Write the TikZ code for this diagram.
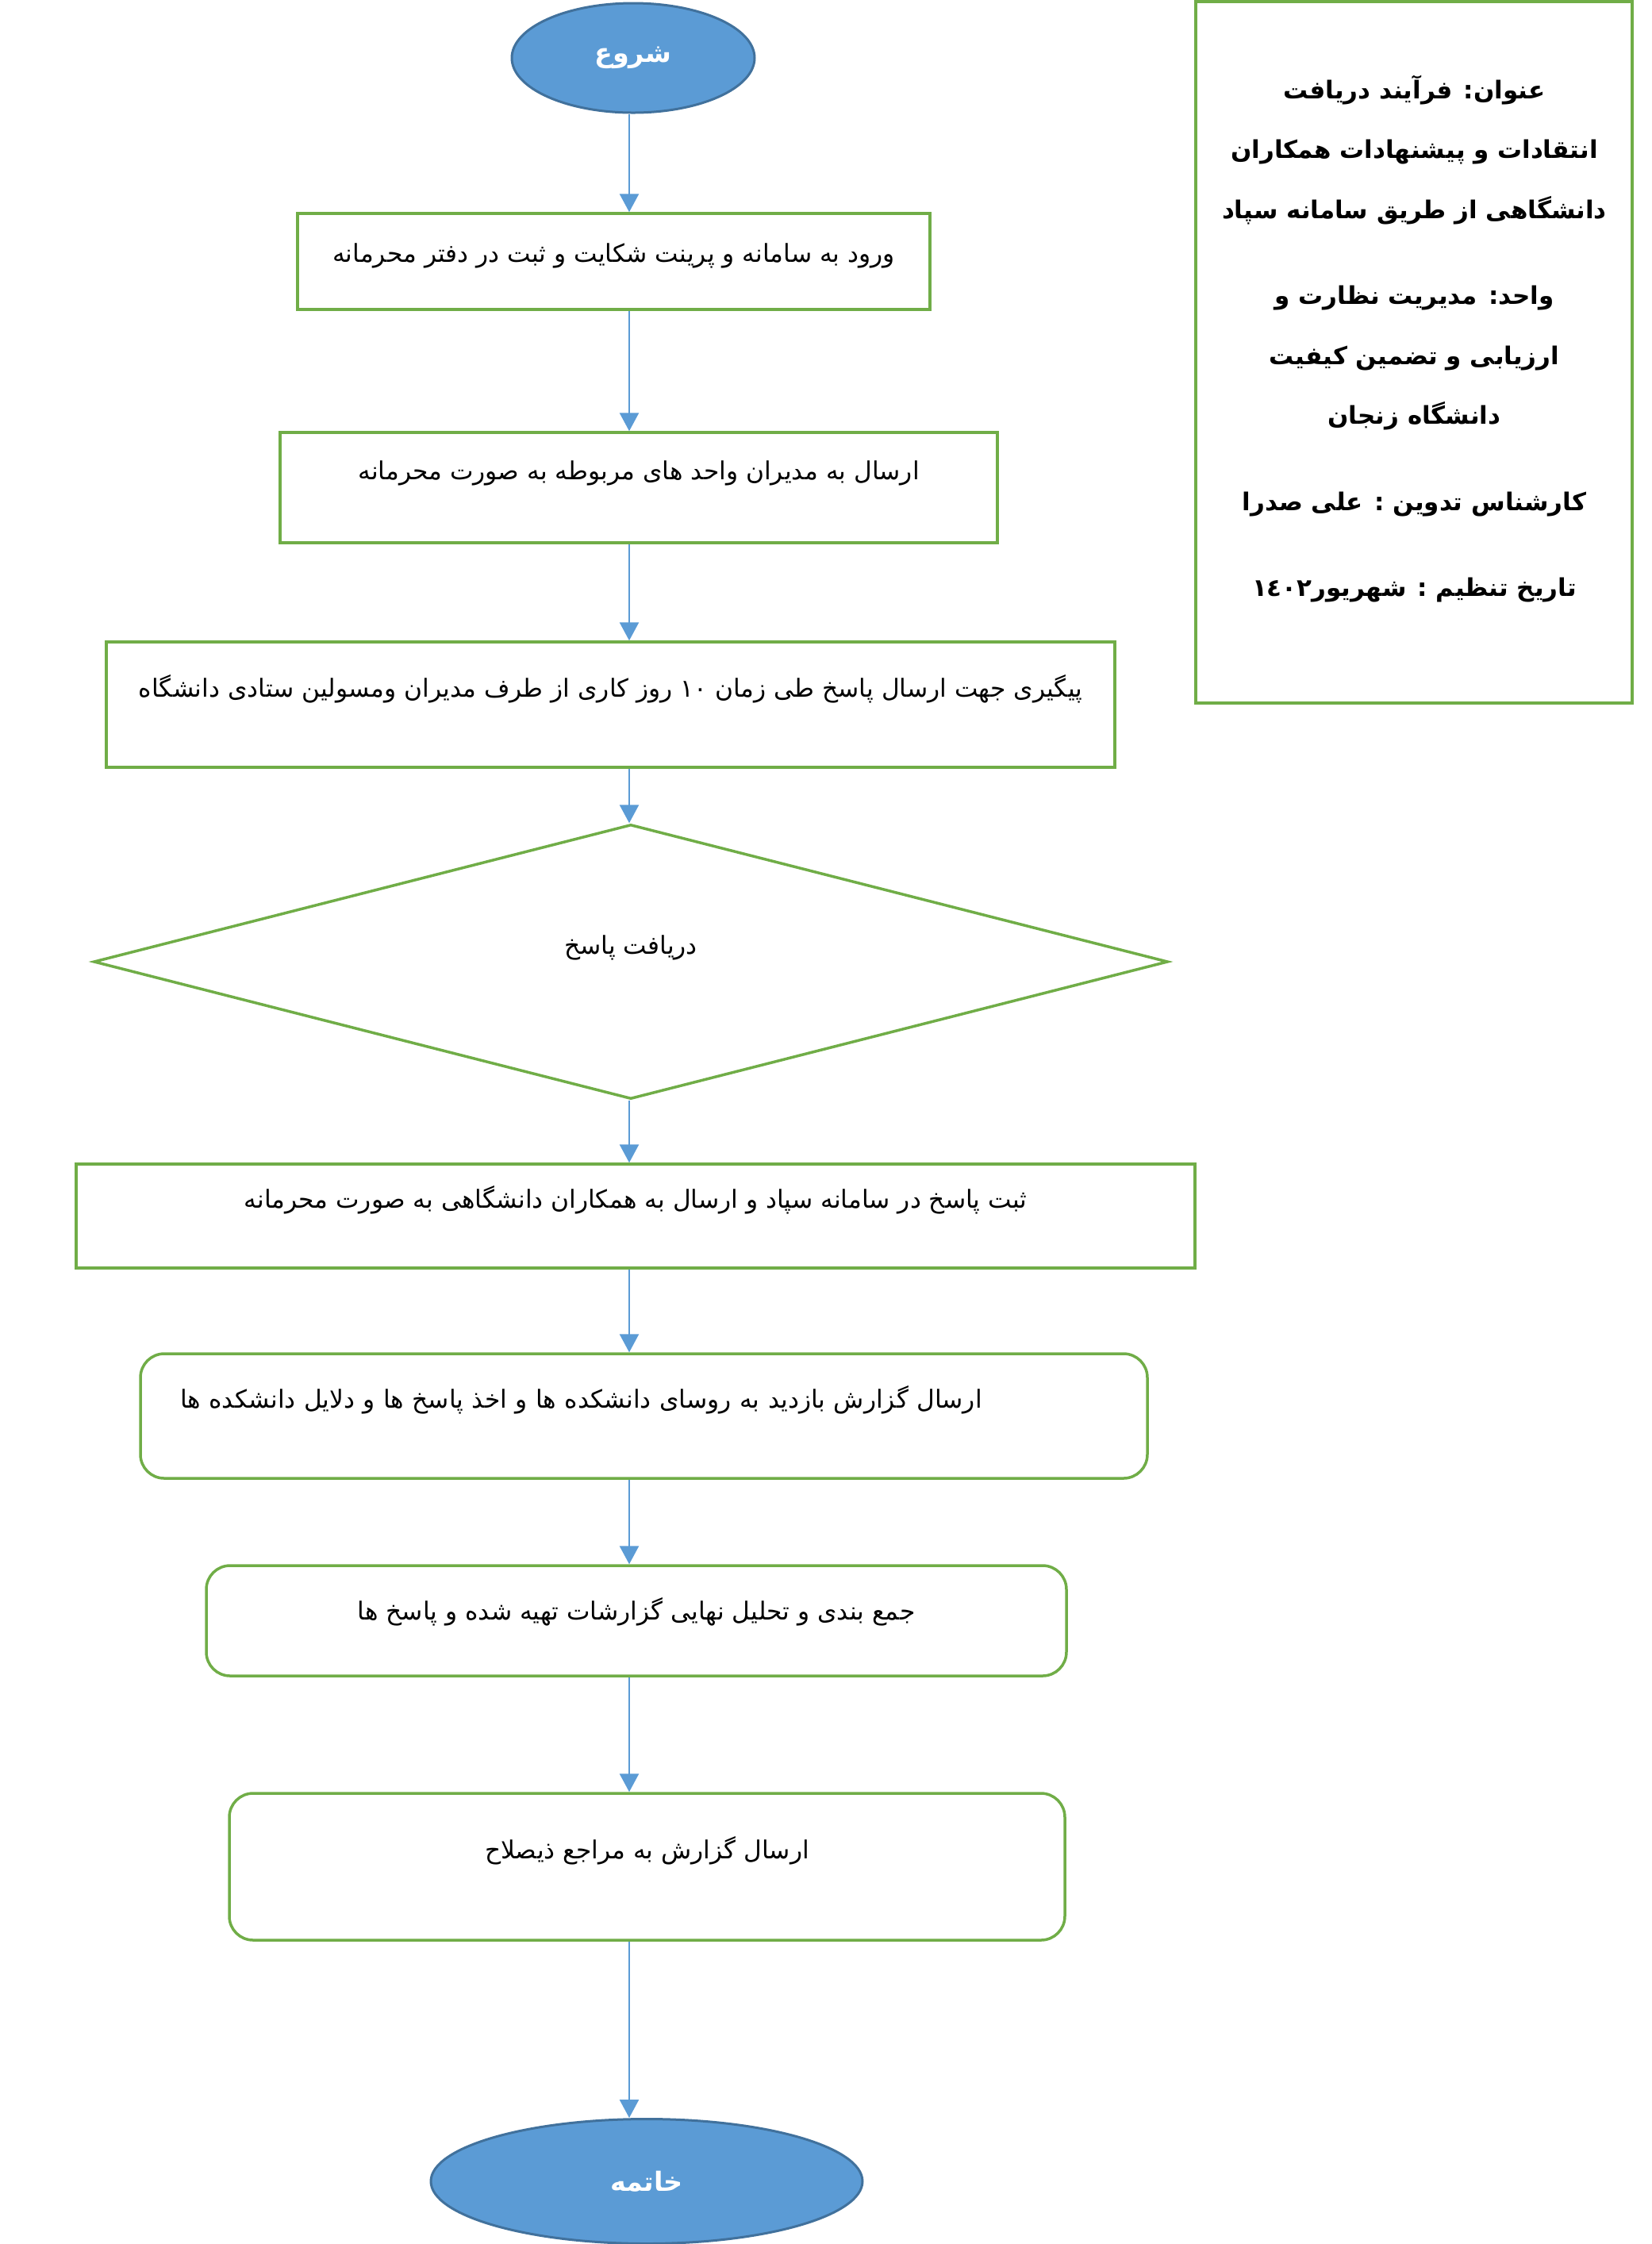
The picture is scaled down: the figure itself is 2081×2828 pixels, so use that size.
\documentclass[tikz,border=0pt]{standalone}
\usepackage{fontspec}
\usetikzlibrary{shapes.geometric,arrows.meta}
\newfontfamily\arabicfont[Script=Arabic]{DejaVu Sans}
\TeXXeTstate=1
\definecolor{flowblue}{HTML}{5B9BD5}
\definecolor{boxgreen}{HTML}{70AD47}
\definecolor{ovalline}{HTML}{41719C}
\begin{document}
\begin{tikzpicture}[x=0.1mm,y=-0.1mm,font=\arabicfont\fontsize{8.9}{11}\selectfont,
  stepbox/.style={draw=boxgreen,line width=0.35mm,inner sep=0pt,text height=3mm,text depth=5mm},
  roundbox/.style={stepbox,rounded corners=3mm},
  oval/.style={ellipse,draw=ovalline,fill=flowblue,line width=0.3mm,inner sep=0pt,text=white,
    font=\arabicfont\bfseries\fontsize{9.5}{12}\selectfont},
  flow/.style={draw=flowblue,line width=0.27mm,-{Triangle[width=2.4mm,length=2.3mm]}}]
\def\faLine#1{\beginR#1\endR}
\useasboundingbox (0,0) rectangle (2081,2828);
\coordinate (axis) at (793,0);
\node[oval,minimum width=30.6mm,minimum height=13.8mm] (start) at (798,73) {\faLine{شروع}};
\node[stepbox,text depth=2.8mm,minimum width=79.7mm,minimum height=12.1mm] (box1) at (773.5,329.5)
  {\faLine{ورود به سامانه و پرینت شکایت و ثبت در دفتر محرمانه}};
\node[stepbox,minimum width=90.4mm,minimum height=13.9mm] (box2) at (805,614.5)
  {\faLine{ارسال به مدیران واحد های مربوطه به صورت محرمانه}};
\node[stepbox,minimum width=127.1mm,minimum height=15.8mm] (box3) at (769.5,888)
  {\faLine{پیگیری جهت ارسال پاسخ طی زمان \beginL١٠\endL{} روز کاری از طرف مدیران ومسولین ستادی دانشگاه}};
\node[stepbox,diamond,minimum width=135.4mm,minimum height=34.6mm] (reply) at (795,1212)
  {\faLine{دریافت پاسخ}};
\node[stepbox,minimum width=141mm,minimum height=13.1mm] (box4) at (801,1532.5)
  {\faLine{ثبت پاسخ در سامانه سپاد و ارسال به همکاران دانشگاهی به صورت محرمانه}};
\node[roundbox,text width=116.9mm,align=left,inner xsep=5mm,minimum height=15.7mm] (box5) at (811.5,1784.5)
  {\faLine{ارسال گزارش بازدید به روسای دانشکده ها و اخذ پاسخ ها و دلایل دانشکده ها}};
\node[roundbox,text depth=3.2mm,minimum width=108.4mm,minimum height=13.9mm] (box6) at (802,2042.5)
  {\faLine{جمع بندی و تحلیل نهایی گزارشات تهیه شده و پاسخ ها}};
\node[roundbox,minimum width=105.3mm,minimum height=18.5mm] (box7) at (815.5,2352.5)
  {\faLine{ارسال گزارش به مراجع ذیصلاح}};
\node[oval,minimum width=54.4mm,minimum height=15.7mm] (finish) at (815,2749) {\faLine{خاتمه}};
\foreach \a/\b in {start/box1,box1/box2,box2/box3,box3/reply,reply/box4,box4/box5,box5/box6,box6/box7,box7/finish}
  \draw[flow] (\a.south -| axis) -- (\b.north -| axis);
\draw[boxgreen,line width=0.35mm] (1507,2) rectangle (2057,886);
\node[align=center,font=\arabicfont\bfseries\fontsize{8.8}{21.5}\selectfont] (info) at (1782.5,427)
  {\faLine{عنوان: فرآیند دریافت}\\\faLine{انتقادات و پیشنهادات همکاران}\\\faLine{دانشگاهی از طریق سامانه سپاد}\\[3.3mm]
   \faLine{واحد: مدیریت نظارت و}\\\faLine{ارزیابی و تضمین کیفیت}\\\faLine{دانشگاه زنجان}\\[3.3mm]
   \faLine{کارشناس تدوین : علی صدرا}\\[3.3mm]\faLine{تاریخ تنظیم : شهریور\beginL١٤٠٢\endL}};
\end{tikzpicture}
\end{document}
